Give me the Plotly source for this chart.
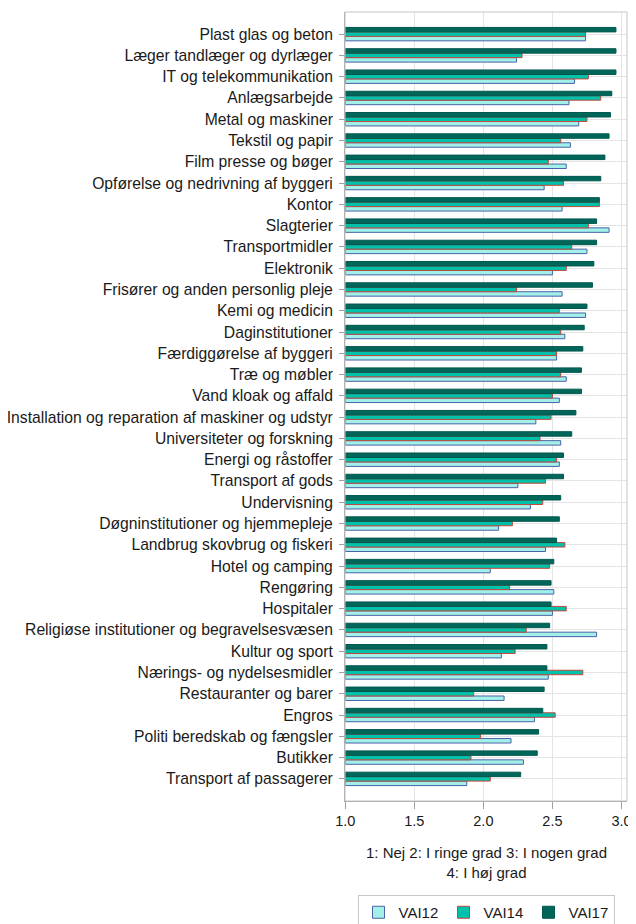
import plotly.graph_objects as go

categories = [
    "Plast glas og beton",
    "Læger tandlæger og dyrlæger",
    "IT og telekommunikation",
    "Anlægsarbejde",
    "Metal og maskiner",
    "Tekstil og papir",
    "Film presse og bøger",
    "Opførelse og nedrivning af byggeri",
    "Kontor",
    "Slagterier",
    "Transportmidler",
    "Elektronik",
    "Frisører og anden personlig pleje",
    "Kemi og medicin",
    "Daginstitutioner",
    "Færdiggørelse af byggeri",
    "Træ og møbler",
    "Vand kloak og affald",
    "Installation og reparation af maskiner og udstyr",
    "Universiteter og forskning",
    "Energi og råstoffer",
    "Transport af gods",
    "Undervisning",
    "Døgninstitutioner og hjemmepleje",
    "Landbrug skovbrug og fiskeri",
    "Hotel og camping",
    "Rengøring",
    "Hospitaler",
    "Religiøse institutioner og begravelsesvæsen",
    "Kultur og sport",
    "Nærings- og nydelsesmidler",
    "Restauranter og barer",
    "Engros",
    "Politi beredskab og fængsler",
    "Butikker",
    "Transport af passagerer",
]

vai12 = [2.74, 2.24, 2.66, 2.62, 2.69, 2.63, 2.60, 2.44, 2.57, 2.91, 2.75, 2.50,
         2.57, 2.74, 2.59, 2.53, 2.60, 2.55, 2.38, 2.56, 2.55, 2.25, 2.34, 2.11,
         2.45, 2.05, 2.51, 2.50, 2.82, 2.13, 2.47, 2.15, 2.37, 2.20, 2.29, 1.88]
vai14 = [2.74, 2.28, 2.76, 2.85, 2.75, 2.56, 2.47, 2.58, 2.84, 2.76, 2.64, 2.60,
         2.24, 2.55, 2.56, 2.53, 2.56, 2.50, 2.49, 2.41, 2.53, 2.45, 2.43, 2.21,
         2.59, 2.48, 2.19, 2.60, 2.31, 2.23, 2.72, 1.93, 2.52, 1.98, 1.91, 2.05]
vai17 = [2.96, 2.96, 2.96, 2.93, 2.92, 2.91, 2.88, 2.85, 2.84, 2.82, 2.82, 2.80,
         2.79, 2.75, 2.73, 2.72, 2.71, 2.71, 2.67, 2.64, 2.58, 2.58, 2.56, 2.55,
         2.53, 2.51, 2.49, 2.49, 2.48, 2.46, 2.46, 2.44, 2.43, 2.40, 2.39, 2.27]

x_ticks = [1.0, 1.5, 2.0, 2.5, 3.0]
x_tick_text = ["1.0", "1.5", "2.0", "2.5", "3.0"]

series = [
    ("VAI12", vai12, "#a2f0e8", "#4a62a8"),
    ("VAI14", vai14, "#00c2aa", "#c2483a"),
    ("VAI17", vai17, "#00665a", "#00584e"),
]

cats_rev = categories[::-1]

fig = go.Figure()
for name, vals, fill, line in series:
    fig.add_trace(go.Bar(
        name=name,
        y=cats_rev,
        x=[v - 1.0 for v in vals[::-1]],
        base=1.0,
        orientation="h",
        marker=dict(color=fill, line=dict(color=line, width=1)),
    ))

font_family = "Liberation Sans, Arial, sans-serif"

# the page body adds an 8px offset, so the figure is 8px smaller each way
W, H = 628, 916

fig.update_layout(
    width=W,
    height=H,
    barmode="group",
    bargap=0.37,
    bargroupgap=0.0,
    plot_bgcolor="white",
    paper_bgcolor="white",
    margin=dict(l=337, r=9, t=4, b=123, pad=0, autoexpand=False),
    font=dict(family=font_family, size=15, color="#1a1a1a"),
    showlegend=True,
    legend=dict(
        orientation="h",
        xref="container", yref="container",
        x=478 / W, xanchor="center",
        y=1 - 887 / H, yanchor="top",
        bordercolor="#c8c8c8", borderwidth=1,
        font=dict(size=15, color="#1a1a1a"),
        entrywidth=40, entrywidthmode="pixels",
        traceorder="normal",
    ),
    xaxis=dict(
        range=[0.998, 3.04],
        tickvals=x_ticks,
        ticktext=x_tick_text,
        tickfont=dict(size=14.5),
        showgrid=True,
        gridcolor="#e4e4e4",
        gridwidth=1,
        zeroline=False,
        showline=True,
        linecolor="#a0a0a0",
        linewidth=1,
        ticks="outside",
        ticklen=7,
        tickcolor="#a0a0a0",
        automargin=False,
    ),
    yaxis=dict(
        categoryorder="array",
        categoryarray=cats_rev,
        range=[-1.04, 36.04],
        tickfont=dict(size=15.7),
        showgrid=True,
        gridcolor="#e4e4e4",
        gridwidth=1,
        showline=True,
        linecolor="#a0a0a0",
        linewidth=1,
        ticks="outside",
        ticklen=5,
        tickcolor="#a0a0a0",
        ticklabelstandoff=3,
        automargin=False,
    ),
    annotations=[dict(
        text="1: Nej 2: I ringe grad 3: I nogen grad<br>4: I høj grad",
        x=0.5, xref="paper", y=-0.052, yref="paper",
        xanchor="center", yanchor="top",
        showarrow=False,
        font=dict(size=15, color="#1a1a1a"),
    )],
    shapes=[dict(
        type="rect", xref="paper", yref="paper",
        x0=0, x1=1, y0=0, y1=1,
        line=dict(color="#c4c4c4", width=1),
        layer="above",
    )],
)

fig.write_html("out.html")
